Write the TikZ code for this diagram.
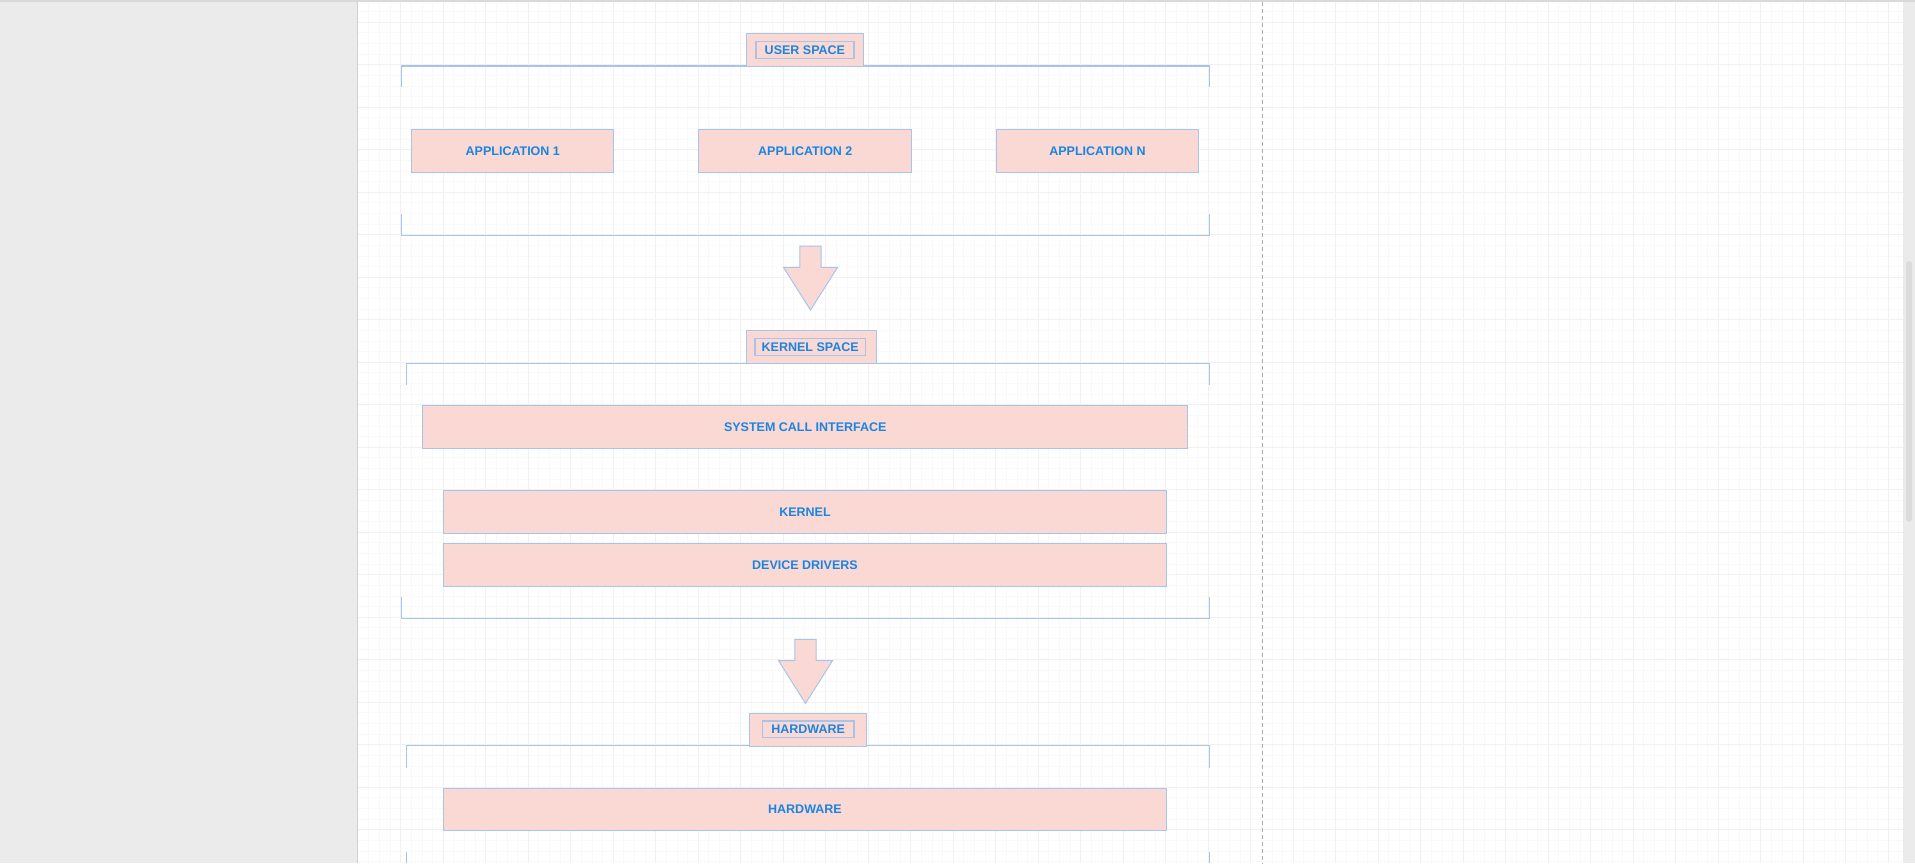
\documentclass[tikz,border=0pt]{standalone}
\usepackage{fontspec}
\setmainfont{Liberation Sans}
\usetikzlibrary{calc}
\definecolor{boxfill}{HTML}{FAD9D5}
\definecolor{boxline}{HTML}{A9C4EB}
\definecolor{labeltext}{HTML}{1A85E0}
\definecolor{canvasgray}{HTML}{EBEBEB}
\definecolor{minorline}{HTML}{F9F9F9}
\definecolor{majorline}{HTML}{F1F1F1}
\def\blockarrow(#1,#2){\draw[arrowshape] (#1-10.7,#2) -- ++(21.4,0) -- ++(0,21.4) -- ++(16.3,0) -- (#1,#2+64) -- (#1-27,#2+21.4) -- ++(16.3,0) -- cycle;}
\tikzset{
  layerbox/.style={draw=boxline, fill=boxfill, line width=0.5pt, text=labeltext, inner sep=0pt,
    font=\bfseries\fontsize{6.25}{7}\selectfont},
  appbox/.style={layerbox, minimum width=101pt, minimum height=21.5pt},
  headbox/.style={layerbox, minimum height=16.35pt},
  headlabel/.style={layerbox, line width=0.7pt, minimum height=8.3pt},
  bracket/.style={draw=boxline, line width=0.75pt},
  arrowshape/.style={draw=boxline, fill=boxfill, line width=0.5pt, line join=miter},
  minorgrid/.style={draw=minorline, line width=0.5pt},
  majorgrid/.style={draw=majorline, line width=0.5pt},
  pagebreak/.style={draw=black!32, line width=0.5pt, dash pattern=on 2pt off 1.5pt}
}
\begin{document}
\begin{tikzpicture}[x=0.5pt, y=-0.5pt]
			%%%%% PAGE %%%%%
			\useasboundingbox (0,0) rectangle (1915,863);
			\fill[canvasgray] (0,0) rectangle (1915,863);
			\fill[black!15] (0,0) rectangle (1915,1.5);
			\fill[white] (358,1.5) rectangle (1902.7,863);
			\draw[black!18, line width=0.75pt] (357.3,1.5) -- (357.3,863);
			
			\foreach \gx in {368.925,379.55,...,1902} \draw[minorgrid] (\gx,1.5) -- (\gx,863);
			\foreach \gy in {11.675,22.3,...,863} \draw[minorgrid] (358,\gy) -- (1902.7,\gy);
			\foreach \gx in {400.8,443.3,...,1902} \draw[majorgrid] (\gx,1.5) -- (\gx,863);
			\foreach \gy in {22.3,64.8,...,863} \draw[majorgrid] (358,\gy) -- (1902.7,\gy);
			
			\draw[pagebreak] (1262.3,1.5) -- (1262.3,863);
			\fill[black!14, rounded corners=1.5pt] (1906,261) rectangle (1912,521.7);
			
			%%%%% USER SPACE %%%%%
			\draw[bracket] (401.4,87.3) -- (401.4,66) -- (1209.7,66) -- (1209.7,87.3);
			\draw[bracket] (401.4,214.3) -- (401.4,235.7) -- (1209.7,235.7) -- (1209.7,214.3);
			
			\node[headbox, minimum width=58.55pt] (userhead) at (804.95,49.65) {};
			\node[headlabel, minimum width=48.9pt] (userlabel) at (804.9,50) {USER SPACE};
			
			\node[appbox] (app1) at (512.8,150.8) {APPLICATION 1};
			\node[appbox, minimum width=106.5pt] (app2) at (805.3,150.8) {APPLICATION 2};
			\node[appbox, minimum width=101.35pt] (appn) at (1097.45,150.8) {APPLICATION N};
			
			\blockarrow(810.5,246)
			
			%%%%% KERNEL SPACE %%%%%
			\draw[bracket] (406.6,385) -- (406.6,363.3) -- (1209.7,363.3) -- (1209.7,385);
			\draw[bracket] (401.4,596.7) -- (401.4,618.3) -- (1209.7,618.3) -- (1209.7,596.7);
			
			\node[headbox, minimum width=64.8pt] (kernelhead) at (811.2,346.9) {};
			\node[headlabel, minimum width=55.15pt] (kernellabel) at (810.15,346.9) {KERNEL SPACE};
			
			\node[layerbox, minimum width=382.6pt, minimum height=21.3pt] (syscall) at (805.3,427) {SYSTEM CALL INTERFACE};
			\node[layerbox, minimum width=361.65pt, minimum height=21.5pt] (kernel) at (804.95,511.8) {KERNEL};
			\node[layerbox, minimum width=361.65pt, minimum height=21.3pt] (drivers) at (804.95,565) {DEVICE DRIVERS};
			
			\blockarrow(805.5,639.3)
			
			%%%%% HARDWARE %%%%%
			\draw[bracket] (406.6,767.7) -- (406.6,745.7) -- (1209.7,745.7) -- (1209.7,767.7);
			\draw[bracket] (406.6,851.7) -- (406.6,863);
			\draw[bracket] (1209.7,851.7) -- (1209.7,863);
			
			\node[headbox, minimum width=58.55pt] (hwhead) at (807.85,729.65) {};
			\node[headlabel, minimum width=45.65pt] (hwlabel) at (808.15,729.35) {HARDWARE};
			
			\node[layerbox, minimum width=361.65pt, minimum height=21.35pt] (hardware) at (804.95,809.35) {HARDWARE};
			
			%%%%% END %%%%%
\end{tikzpicture}
\end{document}
